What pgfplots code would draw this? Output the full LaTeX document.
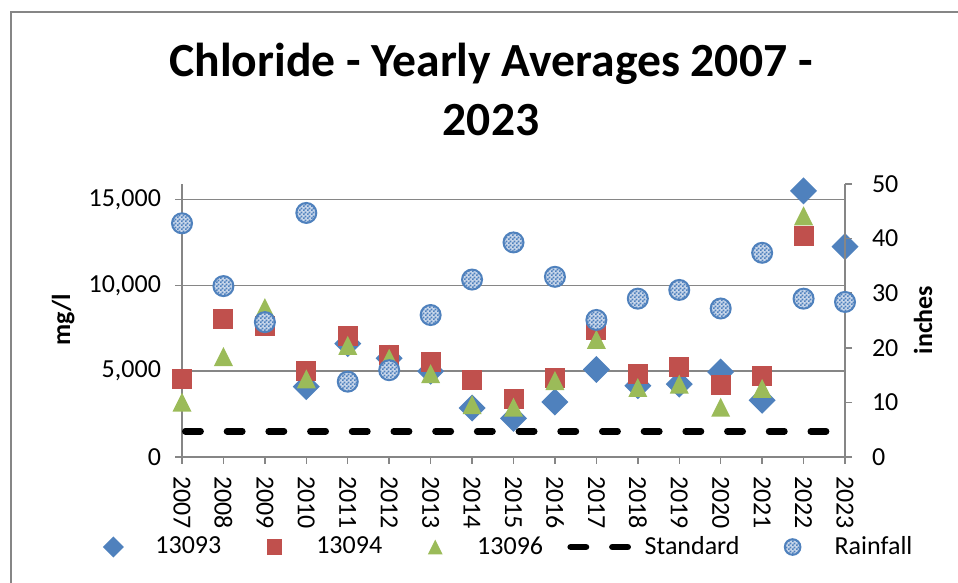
\documentclass[border=0pt]{standalone}
\usepackage{fontspec}
\setmainfont{Carlito}
\usepackage{pgfplots}
\pgfplotsset{compat=1.18}
\usetikzlibrary{patterns}
\definecolor{c93}{HTML}{4F81BD}
\definecolor{c94}{HTML}{C0504D}
\definecolor{c96}{HTML}{9BBB59}
\definecolor{rainblue}{HTML}{4F81BD}
\definecolor{rainbg}{HTML}{C8D6EA}
\definecolor{axgray}{HTML}{868686}

\pgfdeclarepatternformonly{finecheck}{\pgfpointorigin}{\pgfqpoint{1.8pt}{1.8pt}}{\pgfqpoint{1.8pt}{1.8pt}}{%
  \pgfpathrectangle{\pgfpointorigin}{\pgfqpoint{0.9pt}{0.9pt}}%
  \pgfpathrectangle{\pgfqpoint{0.9pt}{0.9pt}}{\pgfqpoint{0.9pt}{0.9pt}}%
  \pgfusepath{fill}}

\pgfdeclareplotmark{xldia}{%
  \pgfpathmoveto{\pgfqpoint{0pt}{\pgfplotmarksize}}%
  \pgfpathlineto{\pgfqpoint{\pgfplotmarksize}{0pt}}%
  \pgfpathlineto{\pgfqpoint{0pt}{-\pgfplotmarksize}}%
  \pgfpathlineto{\pgfqpoint{-\pgfplotmarksize}{0pt}}%
  \pgfpathclose\pgfusepathqfill}
\pgfdeclareplotmark{xlsq}{%
  \pgfpathrectangle{\pgfqpoint{-\pgfplotmarksize}{-\pgfplotmarksize}}{\pgfqpoint{2\pgfplotmarksize}{2\pgfplotmarksize}}%
  \pgfusepathqfill}
\pgfdeclareplotmark{xltri}{%
  \pgfpathmoveto{\pgfqpoint{0pt}{\pgfplotmarksize}}%
  \pgfpathlineto{\pgfqpoint{\pgfplotmarksize}{-\pgfplotmarksize}}%
  \pgfpathlineto{\pgfqpoint{-\pgfplotmarksize}{-\pgfplotmarksize}}%
  \pgfpathclose\pgfusepathqfill}
\pgfdeclareplotmark{checkcircle}{%
  \pgfpathcircle{\pgfpointorigin}{\pgfplotmarksize}%
  \pgfsetfillcolor{rainbg}\pgfusepathqfill
  \pgfpathcircle{\pgfpointorigin}{\pgfplotmarksize}%
  \pgfsetfillpattern{finecheck}{rainblue}%
  \pgfusepathqfill
  \pgfpathcircle{\pgfpointorigin}{\pgfplotmarksize}%
  \pgfsetstrokecolor{rainblue}\pgfsetlinewidth{1pt}\pgfusepathqstroke}

\pgfplotsset{
  base/.style={
    at={(91pt,63pt)}, anchor=south west,
    scale only axis, width=331.5pt, height=136.5pt,
    xmin=2007, xmax=2023,
    clip=false,
    scaled y ticks=false,
    tick align=outside, major tick length=3.5pt,
    tick style={axgray, line width=0.75pt},
    axis line style={axgray, line width=0.75pt, -},
    /pgf/number format/assume math mode=true,
    tick label style={font=\fontsize{13}{15}\selectfont, text=black},
  },
  mleg/.style={legend image code/.code={\path[draw=none,fill=none] (0pt,-1pt) rectangle (32pt,1pt);\draw[mark repeat=2,mark phase=2,mark options={scale=0.78},##1] plot coordinates {(0pt,0pt) (16pt,0pt) (32pt,0pt)};}},
}

\begin{document}
\begin{tikzpicture}
\path[use as bounding box] (0,0) rectangle (479pt,291.5pt);
\draw[axgray, line width=0.75pt] (5.5pt,-2pt) -- (5.5pt,285.5pt) -- (481pt,285.5pt);

\node[anchor=base, font=\fontsize{23.8}{28}\selectfont\bfseries] at (245.5pt,253.2pt) {Chloride - Yearly Averages 2007 -};
\node[anchor=base, font=\fontsize{23.8}{28}\selectfont\bfseries] at (245.5pt,223.5pt) {2023};
\node[rotate=90, anchor=base, font=\fontsize{13}{15}\selectfont\bfseries] at (35pt,131.5pt) {mg/l};
\node[rotate=90, anchor=base, font=\fontsize{13}{15}\selectfont\bfseries] at (466pt,131.5pt) {inches};

\begin{axis}[base,
  axis x line*=bottom, axis y line*=left,
  ymin=0, ymax=15900,
  xtick={2007,2008,...,2023},
  ytick={0,5000,10000,15000},
  ymajorgrids, grid style={axgray, line width=0.75pt},
  x tick label style={yshift=-2.5pt, rotate=-90, anchor=west, /pgf/number format/1000 sep={}},
  y tick label style={xshift=-3.5pt, /pgf/number format/1000 sep={,}},
  legend image code/.code={\draw[#1] plot coordinates {(0pt,0pt) (32pt,0pt)};},
  legend columns=-1,
  legend style={draw=none, fill=none, inner sep=0pt, anchor=west,
    at={(axis description cs:-0.1523,-0.3297)},
    font=\fontsize{13}{15}\selectfont,
    nodes={inner xsep=5pt},
    /tikz/every even column/.append style={column sep=5.5pt}},
]
\addplot[only marks, mleg, color=c93, mark=xldia, mark size=6.75pt] coordinates {
(2010,4100) (2011,6600) (2012,5750) (2013,5000) (2014,2850) (2015,2250)
(2016,3200) (2017,5100) (2018,4150) (2019,4250) (2020,4950) (2021,3300)
(2022,15500) (2023,12250)};
\addlegendentry{13093}
\addplot[only marks, mleg, color=c94, mark=xlsq, mark size=5pt] coordinates {
(2007,4540) (2008,8020) (2009,7650) (2010,5020) (2011,7070) (2012,5940)
(2013,5550) (2014,4500) (2015,3370) (2016,4630) (2017,7400) (2018,4830)
(2019,5215) (2020,4205) (2021,4690) (2022,12850)};
\addlegendentry{13094}
\addplot[only marks, mleg, color=c96, mark=xltri, mark size=4.75pt] coordinates {
(2007,3200) (2008,5850) (2009,8700) (2010,4550) (2011,6500) (2012,5750)
(2013,4850) (2014,3050) (2015,2900) (2016,4450) (2017,6850) (2018,4050)
(2019,4250) (2020,2900) (2021,4000) (2022,14050)};
\addlegendentry{13096}
\addplot[black, mark=none, line width=3.3pt, line cap=round, dash pattern=on 7.65pt off 13.2pt, dash phase=19.2pt] coordinates {(2007,1500) (2023,1500)};
\addlegendentry{Standard}
\addlegendimage{only marks, mleg, mark=checkcircle, mark size=5pt}
\addlegendentry{Rainfall}
\end{axis}

\begin{axis}[base,
  axis x line=none, axis y line*=right,
  ymin=0, ymax=50,
  ytick={0,10,20,30,40,50},
  y tick label style={xshift=6.5pt},
]
\addplot[only marks, mark=checkcircle, mark size=5pt] coordinates {
(2007,42.8) (2008,31.3) (2009,24.7) (2010,44.7) (2011,13.8) (2012,15.9)
(2013,26.0) (2014,32.5) (2015,39.3) (2016,33.0) (2017,25.1) (2018,29.0)
(2019,30.6) (2020,27.2) (2021,37.4) (2022,29.0) (2023,28.4)};
\end{axis}
\end{tikzpicture}
\end{document}
